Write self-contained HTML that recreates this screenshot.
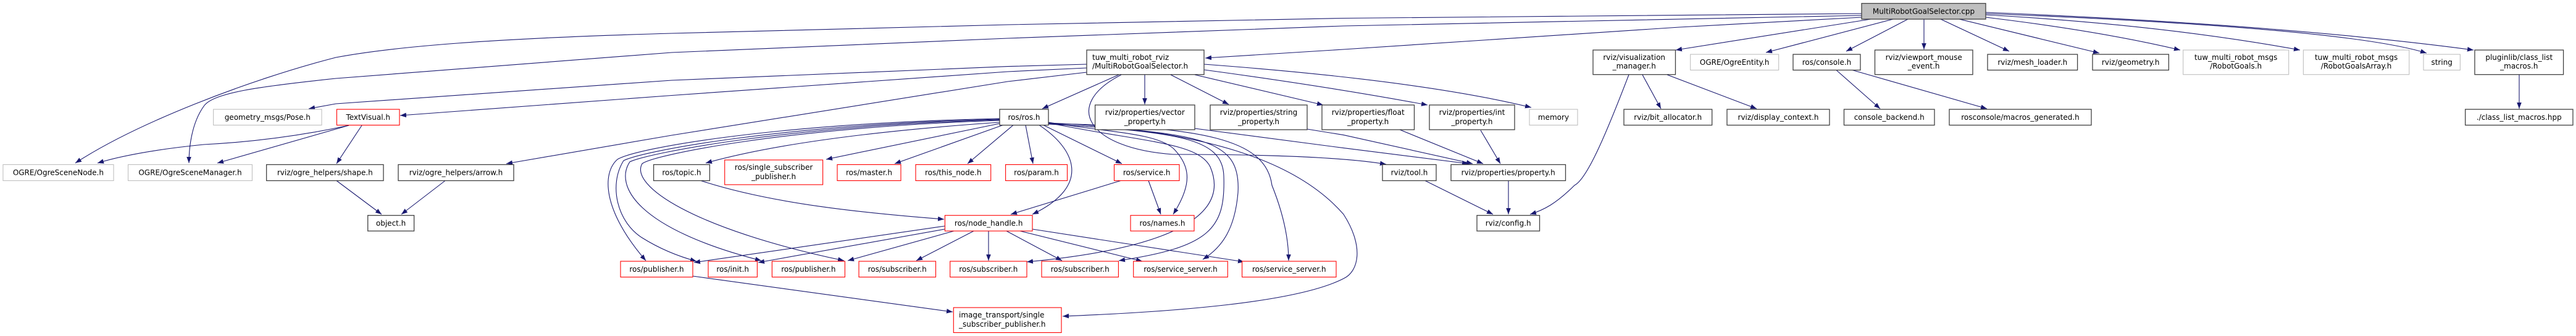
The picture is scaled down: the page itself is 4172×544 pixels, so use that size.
<!DOCTYPE html>
<html><head><meta charset="utf-8"><style>
html,body{margin:0;padding:0;background:#fff;}
svg{display:block;}
text{font-family:"DejaVu Sans","Liberation Sans",sans-serif;font-size:12px;fill:#000;}
.e{fill:none;stroke:#191970;stroke-width:1.1;marker-end:url(#ah);}
.b{fill:#fff;stroke:#404040;stroke-width:1.3;}
.r{fill:#fff;stroke:#ff0000;stroke-width:1.1;}
.g{fill:#fff;stroke:#bfbfbf;stroke-width:1.1;}
</style></head><body>
<svg width="4172" height="544" viewBox="0 0 4172 544" xmlns="http://www.w3.org/2000/svg">
<defs><marker id="ah" markerUnits="userSpaceOnUse" markerWidth="11" markerHeight="8" refX="10" refY="3.8" orient="auto"><path d="M0,0 L10,3.8 L0,7.6 z" fill="#191970"/></marker></defs>
<g>
<path class="e" d="M3015,22 L2176,29.5 L1632,40 L1088,54 C800,62 640,75 544,93 C400,130 220,200 122,264"/>
<path class="e" d="M3015,25 L2176,42 L1632,62 L1088,85 L544,127 C420,140 345,150 330,172 C310,200 306,240 306,264"/>
<path class="e" d="M3015,28 L2720,44 L2176,80 L1952,94"/>
<path class="e" d="M3030,31 L2714,81"/>
<path class="e" d="M3066,31 L2860,85"/>
<path class="e" d="M3090,31 L2990,83"/>
<path class="e" d="M3116,31 L3116,80"/>
<path class="e" d="M3143,31 L3254,83"/>
<path class="e" d="M3173,31 L3400,86"/>
<path class="e" d="M3216,28 Q3400,50 3531,81"/>
<path class="e" d="M3216,24 Q3500,40 3725,81"/>
<path class="e" d="M3216,22 Q3800,45 3930,86"/>
<path class="e" d="M3216,20 Q3700,40 4006,81"/>
<path class="e" d="M4080,121 L4080,176"/>
<path class="e" d="M1812,121 L1688,176"/>
<path class="e" d="M1854,121 L1854,169"/>
<path class="e" d="M1896,121 L1990,169"/>
<path class="e" d="M1935,121 L2143,170"/>
<path class="e" d="M1950,113 Q2150,140 2312,170"/>
<path class="e" d="M1950,104 Q2300,130 2480,174"/>
<path class="e" d="M1816,121 C1720,170 1760,240 1900,250 Q2150,250 2245,266"/>
<path class="e" d="M1760,104 L1632,107.6 L1088,130 L544,168 L500,176"/>
<path class="e" d="M1760,110 L1632,116 L1088,154.5 L648,187"/>
<path class="e" d="M1760,117 L1632,132 L1088,219 L820,265"/>
<path class="e" d="M1935,208 L2176,239.6 L2378,265"/>
<path class="e" d="M2117,209 L2176,218.6 L2385,265"/>
<path class="e" d="M2267,210 L2402,265"/>
<path class="e" d="M2398,211 L2430,265"/>
<path class="e" d="M2443,292.5 L2443,347"/>
<path class="e" d="M2308,292.5 L2418,347"/>
<path class="e" d="M2638,121 C2600,220 2570,290 2550,300 C2520,330 2500,340 2478,347"/>
<path class="e" d="M2660,121 L2690,176"/>
<path class="e" d="M2700,121 L2845,176"/>
<path class="e" d="M2974,113.5 L3045,176"/>
<path class="e" d="M3000,113.5 L3218,176"/>
<path class="e" d="M565,203 Q450,228 330,234 Q220,245 158,264"/>
<path class="e" d="M565,203 L352,264"/>
<path class="e" d="M586,203 L545,265"/>
<path class="e" d="M545,292.5 L618,347"/>
<path class="e" d="M721,292.5 L650,347"/>
<path class="e" d="M1619,198 Q1300,220 1143,264"/>
<path class="e" d="M1619,200 L1338,258"/>
<path class="e" d="M1624,202.6 L1449,265"/>
<path class="e" d="M1641,202.6 L1567,265"/>
<path class="e" d="M1619,192 C1250,200 1030,240 1000,258 C975,280 975,340 1046,422"/>
<path class="e" d="M1619,193 C1260,202 1040,245 1010,260 C985,300 1000,360 1040,385 Q1080,410 1128,423"/>
<path class="e" d="M1619,194 C1270,204 1050,248 1020,262 C995,300 1030,370 1233,422"/>
<path class="e" d="M1619,195 C1280,206 1060,250 1040,265 C1020,300 1120,370 1367,422"/>
<path class="e" d="M1661,202.6 L1673,265"/>
<path class="e" d="M1683,202.6 C1740,240 1770,300 1672,347"/>
<path class="e" d="M1690,202.6 L1817,265"/>
<path class="e" d="M1698,198 C1800,215 1870,215 1900,240 C1930,270 1930,300 1900,347"/>
<path class="e" d="M1698,199 C1850,230 1940,230 1960,270 C1990,340 1920,400 1663,424"/>
<path class="e" d="M1698,200 C1900,215 1980,220 1982,285 C1985,370 1960,400 1812,422"/>
<path class="e" d="M1698,201 C1950,215 2010,225 2005,312 C2000,370 1980,400 1948,420"/>
<path class="e" d="M1698,200 C1950,205 2050,225 2060,300 C2080,350 2087,390 2087,422"/>
<path class="e" d="M1698,199 C1950,210 2100,260 2176,347 C2210,400 2200,440 2176,451 C2100,490 1900,505 1721,512"/>
<path class="e" d="M1530,366 L1124,425"/>
<path class="e" d="M1530,371 L1228,425"/>
<path class="e" d="M1545,374 L1373,422"/>
<path class="e" d="M1577,374 L1484,422"/>
<path class="e" d="M1601,374 L1601,422"/>
<path class="e" d="M1630,374 L1720,422"/>
<path class="e" d="M1652,374 L1850,423"/>
<path class="e" d="M1672,371 L2015,424"/>
<path class="e" d="M1135,292.5 C1250,330 1400,345 1529,355"/>
<path class="e" d="M1815,292.5 L1637,347"/>
<path class="e" d="M1860,292.5 L1880,347"/>
<path class="e" d="M1122,447 L1543,505"/>
</g>
<g>
<rect x="3015" y="5.5" width="201" height="25.5" fill="#bfbfbf" stroke="#404040" stroke-width="1.3"/><text x="3115.5" y="22.5" text-anchor="middle">MultiRobotGoalSelector.cpp</text>

<rect class="b" x="1760" y="81" width="190" height="39.7"/><text x="1769" y="97">tuw_multi_robot_rviz</text><text x="1769" y="111">/MultiRobotGoalSelector.h</text>
<rect class="b" x="2580" y="81" width="133.5" height="39.7"/><text x="2646.7" y="97" text-anchor="middle">rviz/visualization</text><text x="2646.7" y="111" text-anchor="middle">_manager.h</text>
<rect class="b" x="3036.5" y="81" width="158.5" height="39.7"/><text x="3115.7" y="97" text-anchor="middle">rviz/viewport_mouse</text><text x="3115.7" y="111" text-anchor="middle">_event.h</text>
<rect class="g" x="3535.7" y="81" width="171" height="39.7"/><text x="3621.2" y="97" text-anchor="middle">tuw_multi_robot_msgs</text><text x="3621.2" y="111" text-anchor="middle">/RobotGoals.h</text>
<rect class="g" x="3730.4" y="81" width="171.4" height="39.7"/><text x="3816.1" y="97" text-anchor="middle">tuw_multi_robot_msgs</text><text x="3816.1" y="111" text-anchor="middle">/RobotGoalsArray.h</text>
<rect class="b" x="4008" y="81" width="143.6" height="39.7"/><text x="4079.8" y="97" text-anchor="middle">pluginlib/class_list</text><text x="4079.8" y="111" text-anchor="middle">_macros.h</text>

<rect class="g" x="2737.7" y="88" width="143" height="25.5"/><text x="2809.2" y="105" text-anchor="middle">OGRE/OgreEntity.h</text>
<rect class="b" x="2904" y="88" width="109" height="25.5"/><text x="2958.5" y="105" text-anchor="middle">ros/console.h</text>
<rect class="b" x="3219" y="88" width="145.6" height="25.5"/><text x="3291.8" y="105" text-anchor="middle">rviz/mesh_loader.h</text>
<rect class="b" x="3389" y="88" width="123.4" height="25.5"/><text x="3450.7" y="105" text-anchor="middle">rviz/geometry.h</text>
<rect class="g" x="3925" y="88" width="59.4" height="25.5"/><text x="3954.7" y="105" text-anchor="middle">string</text>

<rect class="g" x="345.6" y="177" width="175.4" height="25.6"/><text x="433.3" y="194" text-anchor="middle">geometry_msgs/Pose.h</text>
<rect class="r" x="545.4" y="177" width="101.6" height="25.6"/><text x="596.2" y="194" text-anchor="middle">TextVisual.h</text>
<rect class="b" x="1619" y="177" width="79" height="25.6"/><text x="1658.5" y="194" text-anchor="middle">ros/ros.h</text>
<rect class="g" x="2477" y="177" width="78" height="25.6"/><text x="2516" y="194" text-anchor="middle">memory</text>
<rect class="b" x="2630" y="177" width="142.7" height="25.6"/><text x="2701.3" y="194" text-anchor="middle">rviz/bit_allocator.h</text>
<rect class="b" x="2797" y="177" width="166" height="25.6"/><text x="2880" y="194" text-anchor="middle">rviz/display_context.h</text>
<rect class="b" x="2986.5" y="177" width="146.5" height="25.6"/><text x="3059.7" y="194" text-anchor="middle">console_backend.h</text>
<rect class="b" x="3157" y="177" width="230" height="25.6"/><text x="3272" y="194" text-anchor="middle">rosconsole/macros_generated.h</text>
<rect class="b" x="3992.7" y="177" width="174.3" height="25.6"/><text x="4079.8" y="194" text-anchor="middle">./class_list_macros.hpp</text>

<rect class="b" x="1773.6" y="170" width="161.4" height="40"/><text x="1854.3" y="186" text-anchor="middle">rviz/properties/vector</text><text x="1854.3" y="201" text-anchor="middle">_property.h</text>
<rect class="b" x="1960" y="170" width="157" height="40"/><text x="2038.5" y="186" text-anchor="middle">rviz/properties/string</text><text x="2038.5" y="201" text-anchor="middle">_property.h</text>
<rect class="b" x="2141" y="170" width="149.5" height="40"/><text x="2215.7" y="186" text-anchor="middle">rviz/properties/float</text><text x="2215.7" y="201" text-anchor="middle">_property.h</text>
<rect class="b" x="2315" y="170" width="138" height="40"/><text x="2384" y="186" text-anchor="middle">rviz/properties/int</text><text x="2384" y="201" text-anchor="middle">_property.h</text>

<rect class="g" x="4.9" y="266.5" width="179.1" height="26"/><text x="94.4" y="283.5" text-anchor="middle">OGRE/OgreSceneNode.h</text>
<rect class="g" x="207.5" y="266.5" width="200.9" height="26"/><text x="308" y="283.5" text-anchor="middle">OGRE/OgreSceneManager.h</text>
<rect class="b" x="431.6" y="266.5" width="189.4" height="26"/><text x="526.3" y="283.5" text-anchor="middle">rviz/ogre_helpers/shape.h</text>
<rect class="b" x="645" y="266.5" width="187" height="26"/><text x="738.5" y="283.5" text-anchor="middle">rviz/ogre_helpers/arrow.h</text>
<rect class="b" x="1058.6" y="266.5" width="90.8" height="26"/><text x="1104" y="283.5" text-anchor="middle">ros/topic.h</text>
<rect class="r" x="1173.7" y="259" width="158.9" height="40"/><text x="1253.1" y="275" text-anchor="middle">ros/single_subscriber</text><text x="1253.1" y="290" text-anchor="middle">_publisher.h</text>
<rect class="r" x="1356" y="266.5" width="103" height="26"/><text x="1407.5" y="283.5" text-anchor="middle">ros/master.h</text>
<rect class="r" x="1483" y="266.5" width="121.7" height="26"/><text x="1543.8" y="283.5" text-anchor="middle">ros/this_node.h</text>
<rect class="r" x="1628.6" y="266.5" width="99.9" height="26"/><text x="1678.5" y="283.5" text-anchor="middle">ros/param.h</text>
<rect class="r" x="1804.5" y="266.5" width="105.5" height="26"/><text x="1857.2" y="283.5" text-anchor="middle">ros/service.h</text>
<rect class="b" x="2239" y="266.5" width="87" height="26"/><text x="2282.5" y="283.5" text-anchor="middle">rviz/tool.h</text>
<rect class="b" x="2350" y="266.5" width="185.5" height="26"/><text x="2442.7" y="283.5" text-anchor="middle">rviz/properties/property.h</text>

<rect class="b" x="595.7" y="348.7" width="74.9" height="25.3"/><text x="633.1" y="365.5" text-anchor="middle">object.h</text>
<rect class="r" x="1530.4" y="348.7" width="141.6" height="25.3"/><text x="1601.2" y="365.5" text-anchor="middle">ros/node_handle.h</text>
<rect class="r" x="1831" y="348.7" width="103" height="25.3"/><text x="1882.5" y="365.5" text-anchor="middle">ros/names.h</text>
<rect class="b" x="2392" y="348.7" width="101.5" height="25.3"/><text x="2442.7" y="365.5" text-anchor="middle">rviz/config.h</text>

<rect class="r" x="1005" y="423" width="117" height="25.6"/><text x="1063.5" y="440" text-anchor="middle">ros/publisher.h</text>
<rect class="r" x="1147" y="423" width="79.4" height="25.6"/><text x="1186.7" y="440" text-anchor="middle">ros/init.h</text>
<rect class="r" x="1250.4" y="423" width="118" height="25.6"/><text x="1309.4" y="440" text-anchor="middle">ros/publisher.h</text>
<rect class="r" x="1391" y="423" width="124.5" height="25.6"/><text x="1453.2" y="440" text-anchor="middle">ros/subscriber.h</text>
<rect class="r" x="1538.7" y="423" width="124.3" height="25.6"/><text x="1600.8" y="440" text-anchor="middle">ros/subscriber.h</text>
<rect class="r" x="1687" y="423" width="124.4" height="25.6"/><text x="1749.2" y="440" text-anchor="middle">ros/subscriber.h</text>
<rect class="r" x="1835.7" y="423" width="152.6" height="25.6"/><text x="1912" y="440" text-anchor="middle">ros/service_server.h</text>
<rect class="r" x="2011.6" y="423" width="152.4" height="25.6"/><text x="2087.8" y="440" text-anchor="middle">ros/service_server.h</text>

<rect class="r" x="1544.3" y="498" width="174.7" height="40.5"/><text x="1553" y="514">image_transport/single</text><text x="1553" y="529">_subscriber_publisher.h</text>
</g>
</svg>
</body></html>
